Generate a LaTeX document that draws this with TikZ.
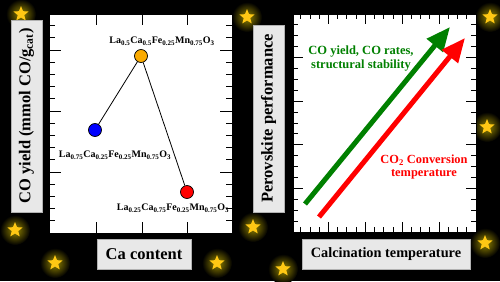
\documentclass[tikz,border=0pt]{standalone}
\usepackage{fontspec}
\setmainfont{Liberation Serif}
\usetikzlibrary{arrows.meta,shapes.geometric}
\definecolor{starfill}{RGB}{255,200,20}
\definecolor{glow}{RGB}{150,135,0}
\definecolor{boxgray}{RGB}{232,232,232}
\definecolor{ptorange}{RGB}{250,170,0}
\definecolor{darkgreen}{RGB}{0,128,0}
\tikzset{
  panel/.style    = { fill=white, draw=black, line width=0.6pt },
  tick/.style     = { black, line width=0.9pt },
  labelbox/.style = { fill=boxgray, draw=gray!60, line width=0.5pt, inner sep=0pt },
  axisfont/.style = { font=\bfseries\fontsize{16.5}{18}\selectfont },
  sample/.style   = { circle, draw=black, line width=0.7pt, minimum size=13pt, inner sep=0pt },
  link/.style     = { black, line width=0.8pt },
  formula/.style  = { font=\bfseries\fontsize{10}{12}\selectfont, inner sep=0pt },
  trend/.style    = { line width=5pt, -{Triangle[length=24pt,width=20pt]} },
  note/.style     = { font=\bfseries\fontsize{12.5}{14}\selectfont, align=center, inner sep=0pt },
  glowstar/.style = { star, star points=5, star point ratio=2.3, fill=starfill, minimum size=16pt, inner sep=0pt },
}

\begin{document}
\begin{tikzpicture}[x=1pt,y=-1pt]
    % background
    \path[fill=black, use as bounding box] (0,0) rectangle (500,281);

    % stars
    \foreach \sx/\sy [count=\i] in {21/14,247/17,490/17,487/127,15/230,55/263,217/263,253/227,283/269,485/243}{
        \shade[inner color=glow, outer color=black] (\sx,\sy) circle (15pt);
        \node[glowstar] (star\i) at (\sx,\sy) {};
    }

    % left panel: CO yield vs Ca content
    \draw[panel] (49,14) rectangle (232,233);
    \foreach \k in {1,...,17}{
        \pgfmathsetmacro{\len}{ifthenelse(mod(\k,5)==0,12,6)}
        \draw[tick] (49,{233-12.2*\k}) -- ++(\len,0);
        \draw[tick] (232,{233-12.2*\k}) -- ++(-\len,0);
    }
    \foreach \xx in {96,142,187}{
        \draw[tick] (\xx,14) -- ++(0,11);
        \draw[tick] (\xx,233) -- ++(0,-11);
    }

    % samples
    \node[sample, fill=blue] (lca75) at (95,130) {};
    \node[sample, fill=ptorange] (lca50) at (141,56) {};
    \node[sample, fill=red] (lca25) at (187,192) {};
    \draw[link] (lca75) -- (lca50) -- (lca25);

    \node[formula] (flca50) at (162,41) {La\textsubscript{0.5}Ca\textsubscript{0.5}Fe\textsubscript{0.25}Mn\textsubscript{0.75}O\textsubscript{3}};
    \node[formula] (flca75) at (115,155) {La\textsubscript{0.75}Ca\textsubscript{0.25}Fe\textsubscript{0.25}Mn\textsubscript{0.75}O\textsubscript{3}};
    \node[formula] (flca25) at (173,208) {La\textsubscript{0.25}Ca\textsubscript{0.75}Fe\textsubscript{0.25}Mn\textsubscript{0.75}O\textsubscript{3}};

    % axis labels left
    \node[labelbox, axisfont, rotate=90, minimum width=192pt, minimum height=31pt] (ylab) at (26.5,116) {CO yield (mmol CO/g\textsubscript{cat})};
    \node[labelbox, axisfont, minimum width=94pt, minimum height=30pt] (xlab) at (144,254) {Ca content};

    % right panel: performance vs calcination temperature
    \draw[panel] (293,14) rectangle (476,232);
    \foreach \k in {1,...,19}{
        \pgfmathsetmacro{\len}{ifthenelse(mod(\k,4)==0,10,5)}
        \draw[tick] ({476-9.22*\k},232) -- ++(0,-\len);
        \draw[tick] ({476-9.22*\k},14) -- ++(0,\len);
        \draw[tick] (293,{232-10.9*\k}) -- ++(\len,0);
        \draw[tick] (476,{232-10.9*\k}) -- ++(-\len,0);
    }

    % trends
    \coordinate (gfrom) at (305,204);
    \coordinate (gto) at (450,27);
    \coordinate (rfrom) at (319,217);
    \coordinate (rto) at (465,38);
    \draw[trend, darkgreen] (gfrom) -- (gto);
    \draw[trend, red] (rfrom) -- (rto);

    \node[note, text=darkgreen] (gnote) at (361,59) {CO yield, CO rates,\\structural stability};
    \node[note, text=red, font=\bfseries\fontsize{12.4}{12.5}\selectfont] (rnote) at (424,167) {CO\textsubscript{2} Conversion\\temperature};

    % axis labels right
    \node[labelbox, axisfont, rotate=90, minimum width=187pt, minimum height=31pt] (ylabr) at (268.5,118.5) {Perovskite performance};
    \node[labelbox, font=\bfseries\fontsize{14.3}{16}\selectfont, minimum width=168pt, minimum height=30pt] (xlabr) at (386,254) {Calcination temperature};

\end{tikzpicture}
\end{document}
